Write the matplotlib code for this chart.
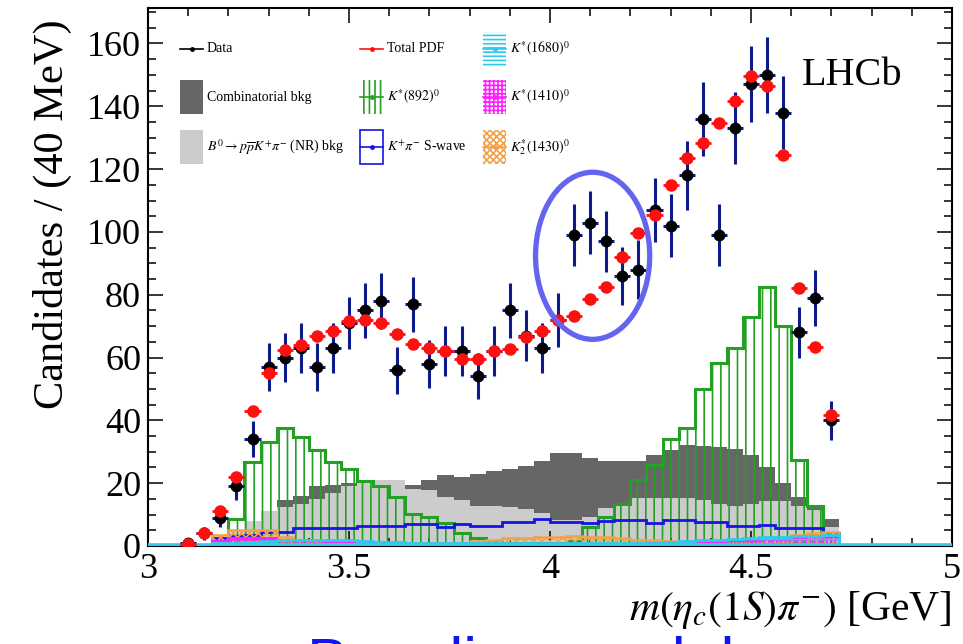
import numpy as np
import matplotlib
matplotlib.use("Agg")
import matplotlib.pyplot as plt
from matplotlib.patches import Rectangle, Ellipse
from matplotlib.ticker import MultipleLocator, FuncFormatter

plt.rcParams['font.family'] = ['Liberation Serif', 'DejaVu Serif']
plt.rcParams['mathtext.fontset'] = 'stix'
plt.rcParams['hatch.linewidth'] = 1.2

# Binning of m(eta_c(1S) pi-) in GeV
bin_low = 3.08
bin_width = 0.04
n_bins = 41

# Observed candidates per bin and their uncertainties
data = [1, 4, 9, 19, 34, 57, 60, 63, 57, 63, 71, 75, 78, 56, 77, 58, 62, 62, 54, 62,
        75, 67, 63, 72, 99, 103, 97, 86, 88, 107, 102, 118, 136, 99, 133, 147, 150, 138,
        68, 79, 40]
data_err = [1.0, 2.0, 3.0, 4.4, 5.8, 7.5, 7.7, 7.9, 7.5, 7.9, 8.4, 8.7, 8.8, 7.5, 8.8,
            7.6, 7.9, 7.9, 7.3, 7.9, 8.7, 8.2, 7.9, 8.5, 9.9, 10.1, 9.8, 9.3, 9.4, 10.3,
            10.1, 10.9, 11.7, 9.9, 11.5, 12.1, 12.2, 11.7, 8.2, 8.9, 6.3]

# Fit result: total PDF per bin
total_pdf = [0.5, 4, 11, 22, 43, 55, 62.5, 64, 67, 68.5, 71.5, 72, 71, 67.5, 64.3, 63,
             62.2, 59.5, 59.5, 62, 62.6, 66.5, 68.3, 72, 73.2, 78.6, 82.4, 91.9, 99.8,
             105.3, 114.8, 123.5, 128.4, 134.6, 141.8, 149.5, 146.6, 124.5, 82.1, 63.3,
             41.7]

# Fit components
comb_bkg = [0, 0, 0, 2, 5, 9, 14.6, 16, 19, 19.5, 20, 20, 19.5, 19, 19.5, 21, 22.5, 22,
            23, 24, 24.5, 25.5, 27, 29.5, 29.5, 28, 27, 27, 27.2, 29, 30.6, 32, 31.8,
            31.6, 30.8, 29, 25.3, 20.2, 15.7, 13.1, 8.5]
nr_bkg = [0, 0, 0.5, 4, 8, 11, 12.5, 13.5, 15, 17, 19, 20.5, 21, 21, 18, 17.8, 15.7,
          14.6, 12.7, 12.7, 12.3, 11.7, 10.4, 8.3, 8.3, 9.1, 12, 12.7, 15.2, 15.2, 15.2,
          15.2, 14.6, 13.5, 12.7, 13.5, 14.3, 14.3, 12.7, 11.5, 6]
kst892 = [0, 0, 0, 8.5, 26.8, 33.2, 37.5, 34.8, 30.6, 26.8, 24.4, 20.8, 19.1, 15.5, 10.2,
          9.1, 7.2, 4.2, 2.4, 1.3, 1.0, 0.8, 0.8, 1.0, 1.5, 6.0, 9.2, 13.5, 21.0, 25.8,
          34.0, 37.7, 49.9, 58.4, 62.9, 72.8, 82.6, 70.1, 27.4, 12.7, 0]
swave = [0, 0, 2.5, 3.2, 3.5, 4.4, 4.6, 5.6, 5.6, 5.6, 5.6, 6.5, 6.5, 6.3, 7.0, 7.0, 6.0,
         7.0, 6.5, 6.5, 7.7, 7.7, 8.7, 7.7, 7.7, 7.2, 8.0, 8.3, 8.3, 7.4, 8.3, 8.3, 7.7,
         7.7, 6.4, 6.4, 6.8, 5.7, 5.7, 5.7, 4]
k2st1430 = [0, 0, 3.5, 5, 5, 5, 3, 2, 1.5, 1.2, 1, 1, 1, 1, 0.9, 0.9, 0.8, 1, 1.5, 2,
            2.4, 2.6, 3, 3, 3.1, 3, 3, 2.5, 2, 2, 1.5, 1, 1, 0.8, 0.8, 0.8, 1, 1.2, 3.5,
            4, 4.5]
kst1410 = [0, 0, 1.5, 2.5, 2.5, 2.5, 1.5, 1.5, 1.5, 1.2, 1, 0.8, 0.6, 0.5, 0.5, 0.5,
           0.5, 0.5, 0.5, 0.5, 0.5, 0.5, 0.5, 0.5, 0.5, 0.5, 0.5, 0.6, 0.7, 0.8, 1, 1.2,
           1.4, 1.4, 1.5, 1.6, 1.8, 2, 2.5, 2.8, 3]
kst1680 = [0, 0, 0.8, 1, 1.2, 1.5, 1.8, 2, 2, 2, 1.8, 1.5, 1.3, 1.2, 1, 1, 0.9, 0.9, 0.8,
           0.8, 0.8, 0.8, 0.8, 0.8, 0.8, 0.8, 0.8, 0.9, 0.9, 1, 1.2, 1.5, 1.8, 2, 2.3,
           2.6, 2.8, 3, 3.2, 3.3, 3.4]

C_DARK = '#666666'
C_LIGHT = '#cccccc'
C_GREEN = '#24a024'
C_BLUE = '#1414e6'
C_ORANGE = '#f3a04a'
C_MAGENTA = '#ff20ff'
C_CYAN = '#2ccaee'
C_NAVY = '#0c1a8c'
C_RED = '#ff1010'

edges = bin_low + bin_width * np.arange(n_bins + 1)
centers = 0.5 * (edges[:-1] + edges[1:])

fig = plt.figure(figsize=(9.63, 6.44), dpi=100)
ax = fig.add_axes([148 / 963, 1 - 546 / 644, 804 / 963, 538 / 644])

# Background components (overlaid, not stacked)
ax.stairs(comb_bkg, edges, fill=True, color=C_DARK, lw=0, zorder=1)
ax.stairs(nr_bkg, edges, fill=True, color=C_LIGHT, lw=0, zorder=1.1)

# Resonant components
ax.stairs(kst892, edges, fill=True, facecolor='none', edgecolor=C_GREEN, hatch='||',
          lw=0, zorder=2)
ax.stairs(kst892, edges, color=C_GREEN, lw=2.2, zorder=2.1)
ax.stairs(swave, edges, color=C_BLUE, lw=2.0, zorder=3)
ax.stairs(k2st1430, edges, fill=True, facecolor='none', edgecolor=C_ORANGE,
          hatch='xxxx', lw=0, zorder=3.1)
ax.stairs(k2st1430, edges, color=C_ORANGE, lw=1.8, zorder=3.2)
ax.stairs(kst1410, edges, fill=True, facecolor='none', edgecolor=C_MAGENTA,
          hatch='++++', lw=0, zorder=3.3)
ax.stairs(kst1410, edges, color=C_MAGENTA, lw=1.5, zorder=3.4)
ax.stairs(kst1680, edges, fill=True, facecolor='none', edgecolor=C_CYAN,
          hatch='----', lw=0, zorder=3.5)
ax.stairs(kst1680, edges, color=C_CYAN, lw=2.0, zorder=3.6)
ax.axhline(0.3, color=C_CYAN, lw=2.6, zorder=3.7)

# Data and fit
ax.errorbar(centers, data, yerr=data_err, xerr=bin_width / 2, fmt='o', ms=7.5,
            mfc='black', mec='black', ecolor=C_NAVY, elinewidth=2.2, capsize=0,
            zorder=5)
ax.errorbar(centers, total_pdf, xerr=bin_width / 2, fmt='o', ms=8, mfc=C_RED,
            mec=C_RED, ecolor=C_RED, elinewidth=2.0, capsize=0, zorder=6)

# Highlight of the excess region
ax.add_patch(Ellipse((4.106, 92.4), 0.284, 53.2, fill=False, edgecolor='#6464f0',
                     lw=3.8, zorder=8))

# Axes styling
ax.set_xlim(3, 5)
ax.set_ylim(0, 171.3)
ax.xaxis.set_major_locator(MultipleLocator(0.5))
ax.xaxis.set_minor_locator(MultipleLocator(0.1))
ax.yaxis.set_major_locator(MultipleLocator(20))
ax.yaxis.set_minor_locator(MultipleLocator(5))
ax.xaxis.set_major_formatter(FuncFormatter(lambda v, p: f'{v:g}'))
ax.tick_params(which='both', direction='in', top=True, right=True, width=1.1)
ax.tick_params(which='major', length=11, labelsize=26)
ax.tick_params(which='minor', length=6)
ax.tick_params(axis='x', which='major', pad=5)
ax.tick_params(axis='y', which='major', pad=5)
for sp in ax.spines.values():
    sp.set_linewidth(1.5)

ax.text(-0.1194, 0.978, 'Candidates / (40 MeV)', rotation=90, ha='center', va='top',
        fontsize=30.5, transform=ax.transAxes)
ax.text(1.0, -0.1375, r'$m(\eta_{c}(1S)\pi^{-})$ [GeV]', ha='right', va='baseline',
        fontsize=30, transform=ax.transAxes)
ax.text(0.813, 0.857, 'LHCb', fontsize=29, ha='left', va='baseline',
        transform=ax.transAxes)

fig.text(307 / 963, -0.059, 'Baseline model', fontsize=45, color='#1414f0',
         family='Liberation Sans', ha='left', va='baseline')

# Legend, three columns of three entries
box_w, box_h = 23 / 804, 34 / 538
rows = [(546 - 49) / 538, (546 - 97) / 538, (546 - 147) / 538]
cols = [(180 - 148) / 804, (360 - 148) / 804, (483 - 148) / 804]
text_gap = 4 / 804


def legend_line(x0, y, color):
    ax.plot([x0, x0 + box_w], [y, y], color=color, lw=1.2, transform=ax.transAxes,
            zorder=10, clip_on=False)
    ax.plot([x0 + box_w / 2], [y], 'o', color=color, ms=2.5, transform=ax.transAxes,
            zorder=10, clip_on=False)


def legend_box(x0, y, **kw):
    ax.add_patch(Rectangle((x0, y - box_h / 2), box_w, box_h, transform=ax.transAxes,
                           zorder=9, **kw))


def legend_label(x0, y, s):
    ax.text(x0 + box_w + text_gap, y, s, fontsize=10, ha='left', va='center',
            transform=ax.transAxes, zorder=10)


entries = [
    (0, 0, 'Data'), (0, 1, 'Combinatorial bkg'),
    (0, 2, r'$B^{0} \rightarrow p\overline{p}K^{+}\pi^{-}$ (NR) bkg'),
    (1, 0, 'Total PDF'), (1, 1, r'$K^{*}(892)^{0}$'), (1, 2, r'$K^{+}\pi^{-}$ S-wave'),
    (2, 0, r'$K^{*}(1680)^{0}$'), (2, 1, r'$K^{*}(1410)^{0}$'),
    (2, 2, r'$K^{*}_{2}(1430)^{0}$'),
]

legend_line(cols[0], rows[0], 'black')
legend_box(cols[0], rows[1], facecolor=C_DARK, edgecolor='none', lw=0)
legend_box(cols[0], rows[2], facecolor=C_LIGHT, edgecolor='none', lw=0)
legend_line(cols[1], rows[0], C_RED)
legend_box(cols[1], rows[1], facecolor='none', edgecolor=C_GREEN, hatch='|||', lw=0)
legend_line(cols[1], rows[1], C_GREEN)
legend_box(cols[1], rows[2], facecolor='none', edgecolor=C_BLUE, lw=1.2)
legend_line(cols[1], rows[2], C_BLUE)
legend_box(cols[2], rows[0], facecolor='none', edgecolor=C_CYAN, hatch='----', lw=0)
legend_line(cols[2], rows[0], C_CYAN)
legend_box(cols[2], rows[1], facecolor='none', edgecolor=C_MAGENTA, hatch='++++', lw=0)
legend_line(cols[2], rows[1], C_MAGENTA)
legend_box(cols[2], rows[2], facecolor='none', edgecolor=C_ORANGE, hatch='xxxxx', lw=0)
legend_line(cols[2], rows[2], C_ORANGE)

for c, r, s in entries:
    legend_label(cols[c], rows[r], s)

fig.savefig('out.png', dpi=100)
